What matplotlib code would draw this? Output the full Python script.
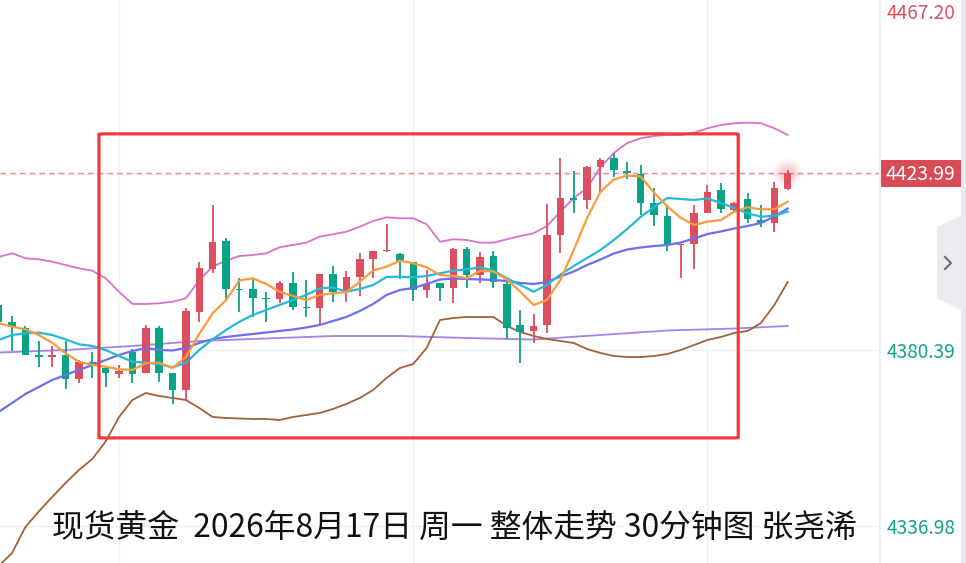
import matplotlib
matplotlib.use("Agg")
import matplotlib.pyplot as plt
import matplotlib.transforms as mtransforms
from matplotlib.patches import Rectangle, FancyBboxPatch, Polygon

plt.rcParams['font.family'] = ['Noto Sans CJK SC', 'DejaVu Sans']

# --- dane: świece 30-minutowe ---
opens = [4391.49, 4387.37, 4385.82, 4379.16, 4378.66, 4379.16, 4373.24, 4377.43, 4375.88, 4374.40,
         4379.97, 4374.79, 4385.89, 4374.79, 4370.40, 4389.84, 4400.37, 4407.28, 4395.36, 4395.44,
         4393.14, 4392.97, 4396.84, 4391.07, 4390.68, 4399.06, 4394.77, 4398.47, 4402.84, 4404.74,
         4404.07, 4402.02, 4395.19, 4396.84, 4395.61, 4405.23, 4398.89, 4403.58, 4396.60, 4386.56,
         4385.15, 4386.56, 4408.76, 4417.96, 4417.39, 4425.46, 4427.68, 4424.62, 4423.80, 4416.58,
         4413.52, 4406.22, 4406.54, 4414.26, 4419.86, 4414.80, 4417.56, 4412.46, 4411.79, 4420.03]
closes = [4387.30, 4385.99, 4379.23, 4378.59, 4379.16, 4373.24, 4377.36, 4376.94, 4374.79, 4375.21,
          4374.40, 4385.89, 4374.79, 4370.40, 4389.89, 4400.62, 4406.91, 4395.44, 4395.12, 4393.29,
          4392.90, 4396.84, 4391.07, 4390.68, 4399.06, 4394.77, 4398.32, 4402.76, 4404.74, 4405.06,
          4402.42, 4395.19, 4396.60, 4395.61, 4405.23, 4398.89, 4403.26, 4397.24, 4385.89, 4384.90,
          4386.31, 4408.76, 4417.96, 4417.39, 4425.41, 4427.26, 4424.91, 4424.12, 4416.58, 4413.69,
          4406.46, 4406.46, 4414.26, 4419.44, 4415.10, 4416.58, 4412.63, 4411.64, 4420.28, 4423.99]
highs = [4391.98, 4388.78, 4386.31, 4382.61, 4381.45, 4382.61, 4377.92, 4379.90, 4376.44, 4376.62,
         4380.64, 4386.56, 4386.31, 4374.79, 4390.68, 4402.02, 4416.16, 4408.02, 4398.08, 4398.08,
         4394.62, 4397.41, 4399.56, 4397.66, 4399.06, 4401.11, 4399.88, 4404.32, 4404.93, 4411.40,
         4404.39, 4402.02, 4400.12, 4396.84, 4405.48, 4405.87, 4404.64, 4404.81, 4398.08, 4390.26,
         4389.20, 4416.33, 4427.68, 4424.62, 4425.78, 4427.68, 4428.91, 4426.84, 4426.02, 4420.28,
         4416.16, 4406.46, 4416.16, 4421.09, 4421.51, 4416.97, 4419.19, 4416.16, 4421.91, 4424.80]
lows = [4386.56, 4380.22, 4379.23, 4376.12, 4376.12, 4370.70, 4372.18, 4373.48, 4371.34, 4373.56,
        4372.18, 4374.79, 4372.57, 4367.07, 4368.06, 4387.37, 4399.31, 4392.72, 4389.84, 4388.60,
        4387.37, 4391.91, 4390.26, 4388.60, 4386.56, 4392.16, 4392.30, 4393.71, 4398.08, 4404.64,
        4397.83, 4392.55, 4393.29, 4392.55, 4391.91, 4395.61, 4396.99, 4395.61, 4383.03, 4377.26,
        4382.04, 4384.51, 4404.24, 4414.11, 4415.10, 4419.19, 4422.94, 4422.50, 4413.69, 4410.98,
        4404.81, 4398.08, 4400.30, 4414.11, 4414.26, 4414.75, 4411.79, 4410.66, 4409.57, 4419.80]

# średnie kroczące i wstęgi Bollingera (odczyt z linii na wykresie)
ma_orange = [4386.98, 4386.14, 4385.50, 4384.09, 4382.19, 4379.58, 4377.50, 4376.69, 4376.27, 4375.63,
             4375.46, 4377.11, 4377.26, 4375.95, 4378.66, 4384.34, 4389.44, 4392.72, 4397.53, 4398.08,
             4396.67, 4394.77, 4393.71, 4392.72, 4393.96, 4394.38, 4394.70, 4397.24, 4400.00, 4400.94,
             4402.42, 4401.78, 4400.79, 4398.89, 4398.64, 4398.08, 4399.95, 4399.70, 4397.83, 4394.77,
             4391.49, 4392.72, 4397.66, 4405.06, 4412.95, 4419.44, 4422.45, 4423.43, 4423.19, 4419.24,
             4415.79, 4413.00, 4411.22, 4412.04, 4412.46, 4414.50, 4415.59, 4415.10, 4415.10, 4416.97]
ma_cyan = [4382.86, 4384.09, 4384.51, 4384.66, 4384.09, 4383.03, 4381.80, 4381.38, 4380.39, 4378.91,
           4377.50, 4377.26, 4376.94, 4376.12, 4377.26, 4380.39, 4383.03, 4385.32, 4387.37, 4389.02,
           4390.26, 4391.49, 4392.72, 4393.96, 4395.61, 4395.81, 4394.77, 4395.44, 4396.42, 4398.40,
           4398.47, 4398.32, 4398.64, 4399.31, 4399.95, 4400.30, 4400.79, 4399.95, 4398.08, 4396.42,
           4394.77, 4396.42, 4399.01, 4401.11, 4403.08, 4405.06, 4407.52, 4410.24, 4413.20, 4415.66,
           4417.88, 4417.64, 4417.39, 4417.76, 4416.65, 4415.42, 4414.11, 4413.27, 4413.52, 4414.50]
ma_blue = [4365.10, 4367.32, 4369.54, 4371.26, 4372.99, 4374.22, 4375.46, 4376.69, 4377.92, 4379.16,
           4380.14, 4380.88, 4380.39, 4380.27, 4380.88, 4382.12, 4383.10, 4383.60, 4383.97, 4384.34,
           4384.71, 4385.08, 4385.45, 4385.94, 4386.56, 4387.54, 4388.53, 4390.01, 4391.74, 4393.96,
           4395.19, 4395.68, 4396.67, 4397.78, 4398.03, 4397.90, 4397.78, 4397.66, 4397.41, 4396.92,
           4396.67, 4397.16, 4398.52, 4399.75, 4401.36, 4402.71, 4404.19, 4405.18, 4405.67, 4406.04,
           4406.29, 4406.91, 4407.89, 4409.00, 4409.62, 4410.36, 4410.98, 4411.72, 4413.32, 4415.29]
boll_upper = [4403.33, 4404.24, 4403.01, 4402.76, 4402.17, 4401.36, 4400.54, 4399.95, 4398.08, 4394.77,
              4391.74, 4391.74, 4391.91, 4392.30, 4393.14, 4397.66, 4400.94, 4402.42, 4403.58, 4403.82,
              4404.24, 4405.72, 4406.29, 4406.86, 4408.34, 4408.93, 4409.57, 4410.80, 4412.21, 4413.12,
              4412.88, 4412.88, 4411.40, 4407.10, 4407.70, 4407.52, 4406.86, 4406.86, 4407.70, 4408.51,
              4409.18, 4410.98, 4414.50, 4417.88, 4420.35, 4425.53, 4428.98, 4431.45, 4432.61, 4433.18,
              4433.42, 4433.42, 4433.99, 4435.08, 4435.89, 4436.31, 4436.46, 4436.31, 4435.08, 4433.42]
boll_lower = [4327.11, 4330.32, 4336.73, 4340.55, 4344.13, 4347.58, 4350.79, 4353.50, 4357.82, 4363.86,
              4368.06, 4369.78, 4369.04, 4368.55, 4368.06, 4366.08, 4363.86, 4363.62, 4363.49, 4363.37,
              4363.37, 4363.12, 4363.86, 4364.36, 4364.85, 4365.84, 4367.07, 4368.55, 4370.52, 4373.48,
              4375.95, 4376.94, 4380.88, 4387.79, 4388.28, 4388.53, 4388.53, 4388.53, 4386.31, 4384.83,
              4383.84, 4383.10, 4382.61, 4382.12, 4380.64, 4379.65, 4378.91, 4378.66, 4378.66, 4378.91,
              4379.40, 4380.39, 4381.62, 4382.86, 4383.60, 4384.58, 4385.08, 4387.05, 4391.49, 4397.16]
ma_long_idx = [0, 5, 10, 15, 20, 25, 30, 35, 40, 45, 50, 55, 59]
ma_long = [4379.77, 4380.39, 4381.38, 4382.61, 4383.23, 4383.84, 4383.84, 4383.35, 4382.98,
           4384.09, 4385.20, 4385.69, 4386.31]

price_ticks = [4467.20, 4380.39, 4336.98]
tick_colors = ['#d9505f', '#12a288', '#12a288']
last_price = 4423.99
title = "现货黄金  2026年8月17日 周一 整体走势 30分钟图 张尧浠"

UP = '#dc4f5e'
DOWN = '#0ba386'

W, H = 966, 563
fig = plt.figure(figsize=(W / 100, H / 100), dpi=100)
fig.patch.set_facecolor('white')
ax = fig.add_axes([0, 0, 880 / W, 1])
ax.set_xlim(0.1, 65.9)
ax.set_ylim(4327.85, 4466.72)
ax.axis('off')

# siatka
for p in [4467.20, 4423.80, 4380.39, 4336.98]:
    ax.axhline(p, color='#f0f1f4', lw=1.0, zorder=0)
for i in [9, 31, 53]:
    ax.axvline(i, color='#f0f1f4', lw=1.0, zorder=0)

# linie wskaźników
idx = list(range(len(opens)))
ax.plot(ma_long_idx, ma_long, color='#a683e6', lw=1.3, zorder=2)
ax.plot(idx, boll_upper, color='#d872cc', lw=1.3, zorder=2)
ax.plot(idx, boll_lower, color='#a3613b', lw=1.3, zorder=2)

# świece
for i in idx:
    o, c = opens[i], closes[i]
    col = UP if c >= o else DOWN
    ax.vlines(i, lows[i], highs[i], color=col, lw=1.3, zorder=3)
    bottom = min(o, c)
    h = max(abs(c - o), 0.35)
    ax.add_patch(Rectangle((i - 0.28, bottom), 0.56, h, facecolor=col, edgecolor='none', zorder=4))

ax.plot(idx, ma_blue, color='#6b6ff0', lw=1.6, zorder=5)
ax.plot(idx, ma_cyan, color='#25b9d9', lw=1.6, zorder=5)
ax.plot(idx, ma_orange, color='#fb9b3c', lw=1.6, zorder=5)

# pulsująca kropka przy ostatniej cenie
last = idx[-1]
for s, a in [(420, 0.06), (260, 0.08), (140, 0.12)]:
    ax.scatter([last], [last_price], s=s, color=UP, alpha=a, edgecolors='none', zorder=6)

# linia bieżącej ceny
ax.axhline(last_price, color='#f08a8a', lw=1.0, ls=(0, (4, 3)), zorder=1)

# czerwona ramka
box = FancyBboxPatch((7.5, 4358.7), 47.8, 75.0,
                     boxstyle="round,pad=0,rounding_size=0.3",
                     mutation_aspect=4.0 / 13.37,
                     facecolor='none', edgecolor='#f23b3b', lw=2.3, zorder=7)
ax.add_patch(box)

# prawa oś cen
fig.add_artist(plt.Line2D([880 / W, 880 / W], [0, 1], color='#eceef2', lw=1.5))
fig.add_artist(Rectangle((961 / W, 0), 5 / W, 1, facecolor='#e9eaef', edgecolor='none'))
trans = mtransforms.blended_transform_factory(fig.transFigure, ax.transData)
for p, col in zip(price_ticks, tick_colors):
    va = 'top' if p == price_ticks[0] else 'center'
    y = p - 1.2 if p == price_ticks[0] else p - 0.6
    ax.text(887 / W, y, f"{p:.2f}", transform=trans, color=col, fontsize=13.7,
            ha='left', va=va, clip_on=False)

ax.add_patch(Rectangle((880 / W, last_price - 3.4), 81 / W, 6.7, transform=trans,
                       facecolor='#da4b58', edgecolor='none', clip_on=False, zorder=8))
ax.text(920.5 / W, last_price - 0.3, f"{last_price:.2f}", transform=trans, color='white',
        fontsize=13.9, ha='center', va='center', clip_on=False, zorder=9)

# zakładka ">"
tab = Polygon([(961 / W, 1 - 216 / H), (937 / W, 1 - 227 / H), (937 / W, 1 - 298 / H), (961 / W, 1 - 310 / H)],
              closed=True, transform=fig.transFigure, facecolor='#ebebf0', edgecolor='none')
fig.add_artist(tab)
fig.add_artist(plt.Line2D([945 / W, 951 / W, 945 / W], [1 - 257 / H, 1 - 263 / H, 1 - 269 / H],
                          color='#6d717e', lw=1.6))

# podpis
fig.text(52 / W, 1 - 528 / H, title, fontsize=22.9, color='#111111', ha='left', va='center')

fig.savefig("out.png", dpi=100)
